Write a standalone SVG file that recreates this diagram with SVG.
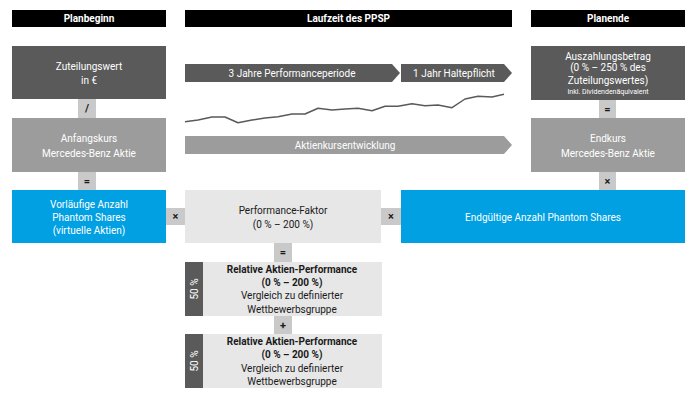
<svg xmlns="http://www.w3.org/2000/svg" width="698" height="403" viewBox="0 0 698 403">
<style>
text{font-family:Roboto,"Liberation Sans",sans-serif;font-size:10px;text-anchor:middle;dominant-baseline:central}
.hdr{fill:#000}
.hdrt{fill:#fff;font-weight:bold}
.dark{fill:#5a5a5a}
.mid{fill:#9c9c9c}
.light{fill:#e7e7e7}
.blue{fill:#00a0e3}
.conn{fill:#c9c9c9}
.w{fill:#fff}
.k{fill:#1a1a1a}
.op{fill:#1a1a1a;font-weight:bold;font-size:11px}
.b{font-weight:bold}
</style>
<g id="headers">
<rect class="hdr" x="12" y="10" width="154" height="17"/>
<text class="hdrt" x="89" y="18.5">Planbeginn</text>
<rect class="hdr" x="185" y="10" width="327" height="17"/>
<text class="hdrt" x="348.5" y="18.5">Laufzeit des PPSP</text>
<rect class="hdr" x="531" y="10" width="154" height="17"/>
<text class="hdrt" x="608" y="18.5">Planende</text>
</g>
<g id="zuteilungswert">
<rect class="dark" x="12" y="46" width="154" height="53"/>
<text class="w" x="89" y="66.5">Zuteilungswert</text>
<text class="w" x="89" y="80">in €</text>
</g>
<g id="anfangskurs">
<rect class="mid" x="12" y="118" width="154" height="54"/>
<text class="w" x="89" y="138">Anfangskurs</text>
<text class="w" x="89" y="153">Mercedes-Benz Aktie</text>
</g>
<g id="vorlaeufige">
<rect class="blue" x="12" y="190" width="154" height="53"/>
<text class="w" x="89" y="204">Vorläufige Anzahl</text>
<text class="w" x="89" y="217">Phantom Shares</text>
<text class="w" x="89" y="230.5">(virtuelle Aktien)</text>
</g>
<g id="performanceperiode">
<polygon class="dark" points="185,64 392,64 400,73 392,82 185,82"/>
<text class="w" x="292" y="73">3 Jahre Performanceperiode</text>
</g>
<g id="haltepflicht">
<polygon class="dark" points="401,64 504,64 512,73 504,82 401,82"/>
<text class="w" x="454" y="73">1 Jahr Haltepflicht</text>
</g>
<g id="chart">
<polyline fill="none" stroke="#5a5a5a" stroke-width="1.5" stroke-linejoin="round" points="185,121.7 198,120 212,117 225,117 238,122.7 252,120 265,118 278,116.7 292,114 305,114 318,108.3 332,110 345,109 358,108.3 372,110.7 385,106.3 398,106.3 412,103.7 425,105.7 438,105 452,107.7 465,99 478,96.3 492,97 504,94.3"/>
</g>
<g id="aktienkursentwicklung">
<polygon class="mid" points="185,136 504,136 512,145 504,154 185,154"/>
<text class="w" x="345" y="145">Aktienkursentwicklung</text>
</g>
<g id="performancefaktor">
<rect class="light" x="185" y="190" width="196" height="53"/>
<text class="k" x="283" y="210">Performance-Faktor</text>
<text class="k" x="283" y="224">(0 % – 200 %)</text>
</g>
<g id="auszahlungsbetrag">
<rect class="dark" x="531" y="46" width="154" height="54"/>
<text class="w" x="608" y="56.5">Auszahlungsbetrag</text>
<text class="w" x="608" y="67.5">(0 % – 250 % des</text>
<text class="w" x="608" y="80.5">Zuteilungswertes)</text>
<text class="w" x="608" y="91.5" style="font-size:7px">Inkl. Dividendenäquivalent</text>
</g>
<g id="endkurs">
<rect class="mid" x="531" y="118" width="154" height="54"/>
<text class="w" x="608" y="138">Endkurs</text>
<text class="w" x="608" y="153">Mercedes-Benz Aktie</text>
</g>
<g id="endgueltige">
<rect class="blue" x="401" y="190" width="284" height="53"/>
<text class="w" x="543" y="217">Endgültige Anzahl Phantom Shares</text>
</g>
<g id="relative1">
<rect class="light" x="185" y="262" width="197" height="54"/>
<rect class="dark" x="185" y="262" width="18" height="54"/>
<text class="w" transform="translate(194,289) rotate(-90)">50 %</text>
<text class="k b" x="292" y="269">Relative Aktien-Performance</text>
<text class="k b" x="292" y="282.5">(0 % – 200 %)</text>
<text class="k" x="292" y="295.5">Vergleich zu definierter</text>
<text class="k" x="292" y="309">Wettbewerbsgruppe</text>
</g>
<g id="relative2">
<rect class="light" x="185" y="334" width="197" height="54"/>
<rect class="dark" x="185" y="334" width="18" height="54"/>
<text class="w" transform="translate(194,361) rotate(-90)">50 %</text>
<text class="k b" x="292" y="341">Relative Aktien-Performance</text>
<text class="k b" x="292" y="354.5">(0 % – 200 %)</text>
<text class="k" x="292" y="368">Vergleich zu definierter</text>
<text class="k" x="292" y="381.5">Wettbewerbsgruppe</text>
</g>
<g id="connectors">
<rect class="conn" x="78" y="99" width="18" height="19"/>
<text class="op" x="87" y="108.5">/</text>
<rect class="conn" x="78" y="172" width="18" height="18"/>
<text class="op" x="87" y="181">=</text>
<rect class="conn" x="599" y="100" width="17" height="18"/>
<text class="op" x="607.5" y="109">=</text>
<rect class="conn" x="599" y="172" width="17" height="18"/>
<text class="op" x="607.5" y="181">×</text>
<rect class="conn" x="166" y="208" width="19" height="17"/>
<text class="op" x="175.5" y="216.5">×</text>
<rect class="conn" x="381" y="208" width="20" height="17"/>
<text class="op" x="391" y="216.5">×</text>
<rect class="conn" x="274" y="243" width="18" height="19"/>
<text class="op" x="283" y="252.5">=</text>
<rect class="conn" x="274" y="316" width="18" height="18"/>
<text class="op" x="283" y="325">+</text>
</g>
</svg>
